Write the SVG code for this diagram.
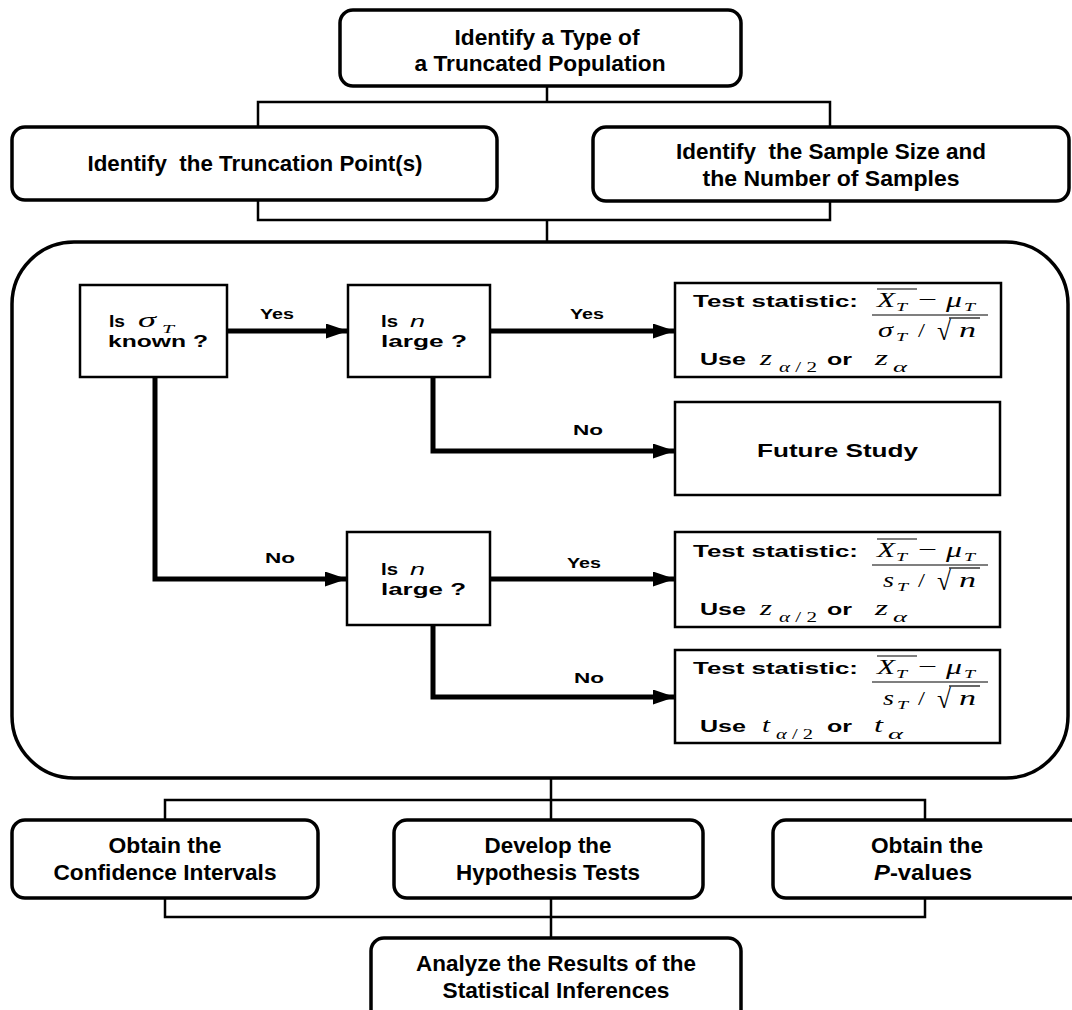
<svg xmlns="http://www.w3.org/2000/svg" width="1072" height="1010" viewBox="0 0 1072 1010">
<style>
.rb{fill:#fff;stroke:#000;stroke-width:3.5}
.sb{fill:#fff;stroke:#000;stroke-width:2.5}
.t{font-family:"Liberation Sans",Arial,sans-serif;font-weight:bold;font-size:21.5px;fill:#000;text-anchor:middle}
.q{font-family:"Liberation Sans",Arial,sans-serif;font-weight:bold;font-size:17px;fill:#000}
.lb{font-family:"Liberation Sans",Arial,sans-serif;font-weight:bold;font-size:15.5px;fill:#000}
.m{font-family:"Liberation Serif","Times New Roman",serif;font-style:italic;font-size:21px;fill:#000}
.s{font-family:"Liberation Serif","Times New Roman",serif;font-style:italic;font-size:12px;fill:#000}
.r{font-family:"Liberation Serif","Times New Roman",serif;font-size:20px;fill:#000}
.bar{stroke:#000;stroke-width:1.2}
.thin{fill:none;stroke:#000;stroke-width:2.5}
.thick{fill:none;stroke:#000;stroke-width:5}
</style>
<defs>
<marker id="ah" viewBox="0 0 10 10" refX="10" refY="5" markerWidth="4.4" markerHeight="3" orient="auto" markerUnits="strokeWidth" preserveAspectRatio="none">
<path d="M0,0 L10,5 L0,10 Z" fill="#000"/>
</marker>
<!-- numerator (X-bar_T minus mu_T) and fraction bar, baseline at y=0 -->
<g id="numer">
<line class="bar" x1="877" y1="-18" x2="917" y2="-18"/>
<text class="m" x="877" y="0" textLength="18" lengthAdjust="spacingAndGlyphs">X</text>
<text class="s" x="896" y="4" textLength="11" lengthAdjust="spacingAndGlyphs">T</text>
<text class="r" x="918" y="-1" textLength="19" lengthAdjust="spacingAndGlyphs">−</text>
<text class="m" x="946" y="0" textLength="16" lengthAdjust="spacingAndGlyphs">μ</text>
<text class="s" x="964" y="4" textLength="11" lengthAdjust="spacingAndGlyphs">T</text>
<line class="bar" x1="872" y1="8" x2="988" y2="8"/>
</g>
<!-- "/ sqrt(n)" part of the denominator, baseline at y=0 -->
<g id="rootn">
<text class="r" x="918" y="0" style="font-size:18px" textLength="7" lengthAdjust="spacingAndGlyphs">/</text>
<text class="r" x="937" y="3" style="font-size:27px" textLength="14" lengthAdjust="spacingAndGlyphs">√</text>
<line class="bar" x1="949" y1="-19" x2="980" y2="-19"/>
<text class="m" x="959" y="0" textLength="17" lengthAdjust="spacingAndGlyphs">n</text>
</g>
</defs>

<!-- test selection panel (drawn under its connectors) -->
<g id="panel">
<rect class="rb" x="12" y="242" width="1056" height="536" rx="62"/>
</g>

<!-- connectors -->
<g id="connectors">
<path class="thin" d="M547,86 V102 M258,127 V102 H830 V127"/>
<path class="thin" d="M258,200 V220 H830 V201 M547,220 V242"/>
<path class="thin" d="M551,778 V820 M165,820 V800 H925 V820"/>
<path class="thin" d="M165,898 V917 H925 V898 M551,898 V938"/>
<path class="thick" d="M227,331 H348" marker-end="url(#ah)"/>
<path class="thick" d="M490,331 H675" marker-end="url(#ah)"/>
<path class="thick" d="M433,377 V451 H675" marker-end="url(#ah)"/>
<path class="thick" d="M155,377 V579 H347" marker-end="url(#ah)"/>
<path class="thick" d="M490,579 H675" marker-end="url(#ah)"/>
<path class="thick" d="M433,625 V697 H675" marker-end="url(#ah)"/>
<text class="lb" x="260" y="319" textLength="34" lengthAdjust="spacingAndGlyphs">Yes</text>
<text class="lb" x="570" y="319" textLength="34" lengthAdjust="spacingAndGlyphs">Yes</text>
<text class="lb" x="573" y="435" textLength="30" lengthAdjust="spacingAndGlyphs">No</text>
<text class="lb" x="265" y="563" textLength="30" lengthAdjust="spacingAndGlyphs">No</text>
<text class="lb" x="567" y="568" textLength="34" lengthAdjust="spacingAndGlyphs">Yes</text>
<text class="lb" x="574" y="683" textLength="30" lengthAdjust="spacingAndGlyphs">No</text>
</g>

<!-- top stage -->
<g id="type">
<rect class="rb" x="340" y="10" width="401" height="76" rx="13"/>
<text class="t" x="547" y="45" textLength="185" lengthAdjust="spacingAndGlyphs">Identify a Type of</text>
<text class="t" x="540" y="71" textLength="251" lengthAdjust="spacingAndGlyphs">a Truncated Population</text>
</g>
<g id="truncation">
<rect class="rb" x="12" y="127" width="485" height="73" rx="13"/>
<text class="t" x="255" y="171" xml:space="preserve" textLength="335" lengthAdjust="spacingAndGlyphs">Identify  the Truncation Point(s)</text>
</g>
<g id="sample">
<rect class="rb" x="593" y="127" width="476" height="74" rx="13"/>
<text class="t" x="831" y="159" xml:space="preserve" textLength="310" lengthAdjust="spacingAndGlyphs">Identify  the Sample Size and</text>
<text class="t" x="831" y="186" textLength="257" lengthAdjust="spacingAndGlyphs">the Number of Samples</text>
</g>

<!-- decisions -->
<g id="sigma-known">
<rect class="sb" x="80" y="285" width="147" height="92"/>
<text class="q" x="109" y="327" textLength="16" lengthAdjust="spacingAndGlyphs">Is</text>
<text class="m" x="138" y="327" style="font-size:22px" textLength="18" lengthAdjust="spacingAndGlyphs">σ</text>
<text class="s" x="162" y="333" style="font-size:13px" textLength="12" lengthAdjust="spacingAndGlyphs">T</text>
<text class="q" x="108" y="347" textLength="100" lengthAdjust="spacingAndGlyphs">known ?</text>
</g>
<g id="n-large-1">
<rect class="sb" x="348" y="285" width="142" height="92"/>
<text class="q" x="381" y="327" textLength="17" lengthAdjust="spacingAndGlyphs">Is</text>
<text class="q" x="410" y="327" style="font-style:italic;font-weight:normal" textLength="15" lengthAdjust="spacingAndGlyphs">n</text>
<text class="q" x="381" y="347" textLength="86" lengthAdjust="spacingAndGlyphs">large ?</text>
</g>
<g id="n-large-2">
<rect class="sb" x="347" y="532" width="143" height="93"/>
<text class="q" x="381" y="575" textLength="17" lengthAdjust="spacingAndGlyphs">Is</text>
<text class="q" x="410" y="575" style="font-style:italic;font-weight:normal" textLength="15" lengthAdjust="spacingAndGlyphs">n</text>
<text class="q" x="381" y="595" textLength="85" lengthAdjust="spacingAndGlyphs">large ?</text>
</g>

<!-- outcomes -->
<g id="stat-z-sigma">
<rect class="sb" x="675" y="283" width="326" height="94"/>
<text class="q" x="693" y="307" textLength="165" lengthAdjust="spacingAndGlyphs">Test statistic:</text>
<use href="#numer" y="307"/>
<text class="m" x="878" y="337" textLength="15" lengthAdjust="spacingAndGlyphs">σ</text>
<text class="s" x="896" y="341" textLength="11" lengthAdjust="spacingAndGlyphs">T</text>
<use href="#rootn" y="337"/>
<text class="q" x="700" y="365" textLength="46" lengthAdjust="spacingAndGlyphs">Use</text>
<text class="m" x="760" y="365" textLength="12" lengthAdjust="spacingAndGlyphs">z</text>
<text class="s" x="779" y="372" style="font-size:14px" textLength="38" lengthAdjust="spacingAndGlyphs">α<tspan font-style="normal"> / 2</tspan></text>
<text class="q" x="827" y="365" textLength="25" lengthAdjust="spacingAndGlyphs">or</text>
<text class="m" x="875" y="365" textLength="13" lengthAdjust="spacingAndGlyphs">z</text>
<text class="s" x="893" y="372" style="font-size:15px" textLength="14" lengthAdjust="spacingAndGlyphs">α</text>
</g>
<g id="future">
<rect class="sb" x="675" y="402" width="325" height="93"/>
<text class="q" x="757" y="457" style="font-size:19px" textLength="161" lengthAdjust="spacingAndGlyphs">Future Study</text>
</g>
<g id="stat-z-s">
<rect class="sb" x="675" y="532" width="325" height="95"/>
<text class="q" x="693" y="557" textLength="165" lengthAdjust="spacingAndGlyphs">Test statistic:</text>
<use href="#numer" y="557"/>
<text class="m" x="883" y="587" textLength="11" lengthAdjust="spacingAndGlyphs">s</text>
<text class="s" x="897" y="591" textLength="11" lengthAdjust="spacingAndGlyphs">T</text>
<use href="#rootn" y="587"/>
<text class="q" x="700" y="615" textLength="46" lengthAdjust="spacingAndGlyphs">Use</text>
<text class="m" x="760" y="615" textLength="12" lengthAdjust="spacingAndGlyphs">z</text>
<text class="s" x="779" y="622" style="font-size:14px" textLength="38" lengthAdjust="spacingAndGlyphs">α<tspan font-style="normal"> / 2</tspan></text>
<text class="q" x="827" y="615" textLength="25" lengthAdjust="spacingAndGlyphs">or</text>
<text class="m" x="875" y="615" textLength="13" lengthAdjust="spacingAndGlyphs">z</text>
<text class="s" x="893" y="622" style="font-size:15px" textLength="14" lengthAdjust="spacingAndGlyphs">α</text>
</g>
<g id="stat-t">
<rect class="sb" x="675" y="650" width="325" height="93"/>
<text class="q" x="693" y="674" textLength="165" lengthAdjust="spacingAndGlyphs">Test statistic:</text>
<use href="#numer" y="674"/>
<text class="m" x="883" y="705" textLength="11" lengthAdjust="spacingAndGlyphs">s</text>
<text class="s" x="897" y="709" textLength="11" lengthAdjust="spacingAndGlyphs">T</text>
<use href="#rootn" y="705"/>
<text class="q" x="700" y="732" textLength="46" lengthAdjust="spacingAndGlyphs">Use</text>
<text class="m" x="762" y="732" style="font-size:22px" textLength="8" lengthAdjust="spacingAndGlyphs">t</text>
<text class="s" x="776" y="739" style="font-size:14px" textLength="37" lengthAdjust="spacingAndGlyphs">α<tspan font-style="normal"> / 2</tspan></text>
<text class="q" x="827" y="732" textLength="25" lengthAdjust="spacingAndGlyphs">or</text>
<text class="m" x="874" y="732" style="font-size:22px" textLength="9" lengthAdjust="spacingAndGlyphs">t</text>
<text class="s" x="888" y="739" style="font-size:15px" textLength="15" lengthAdjust="spacingAndGlyphs">α</text>
</g>

<!-- inference stage -->
<g id="confidence">
<rect class="rb" x="12" y="820" width="306" height="78" rx="13"/>
<text class="t" x="165" y="853" textLength="113" lengthAdjust="spacingAndGlyphs">Obtain the</text>
<text class="t" x="165" y="880" textLength="223" lengthAdjust="spacingAndGlyphs">Confidence Intervals</text>
</g>
<g id="hypothesis">
<rect class="rb" x="394" y="820" width="309" height="78" rx="13"/>
<text class="t" x="548" y="853" textLength="127" lengthAdjust="spacingAndGlyphs">Develop the</text>
<text class="t" x="548" y="880" textLength="184" lengthAdjust="spacingAndGlyphs">Hypothesis Tests</text>
</g>
<g id="pvalues">
<rect class="rb" x="773" y="820" width="310" height="78" rx="13"/>
<text class="t" x="927" y="853" textLength="112" lengthAdjust="spacingAndGlyphs">Obtain the</text>
<text class="t" x="923" y="880" textLength="98" lengthAdjust="spacingAndGlyphs"><tspan font-style="italic">P</tspan>-values</text>
</g>
<g id="analyze">
<rect class="rb" x="371" y="938" width="370" height="90" rx="13"/>
<text class="t" x="556" y="971" textLength="280" lengthAdjust="spacingAndGlyphs">Analyze the Results of the</text>
<text class="t" x="556" y="998" textLength="227" lengthAdjust="spacingAndGlyphs">Statistical Inferences</text>
</g>
</svg>
